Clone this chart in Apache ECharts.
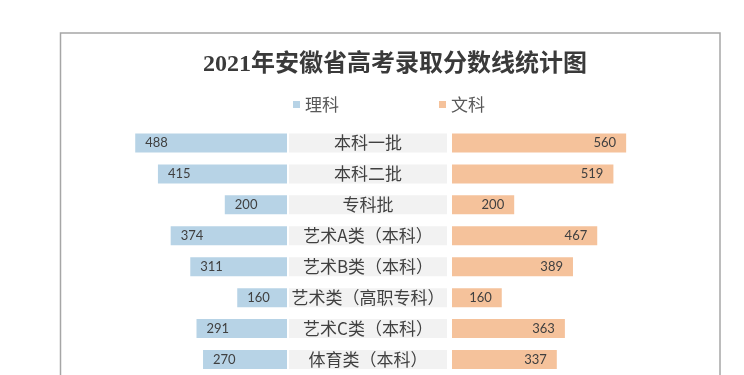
<!DOCTYPE html>
<html>
<head>
<meta charset="utf-8">
<script src="https://cdn.jsdelivr.net/npm/echarts@6/dist/echarts.min.js"></script>
<style>html,body{margin:0;padding:0;background:#fff;}#c{width:744px;height:375px;}</style>
</head>
<body>
<div id="c"></div>
<script>
const categories = ['本科一批', '本科二批', '专科批', '艺术A类（本科）', '艺术B类（本科）', '艺术类（高职专科）', '艺术C类（本科）', '体育类（本科）'];
const science = [488, 415, 200, 374, 311, 160, 291, 270];
const liberal = [560, 519, 200, 467, 389, 160, 363, 337];
const bandValues = categories.map(() => 1);

const chart = echarts.init(document.getElementById('c'), null, {renderer: 'canvas'});
const numFont = 'Lato, "Noto Sans CJK SC", sans-serif';
const cjkFont = '"Noto Sans CJK SC", sans-serif';
const pxPerUnit = 0.311;
const gridTop = 127.5, gridH = 248;
const leftW = 225, rightW = 268;

const yBase = {type: 'category', data: categories, inverse: true,
  axisLine: {show: false}, axisTick: {show: false}, axisLabel: {show: false}, splitLine: {show: false}};
const xBase = {type: 'value', axisLine: {show: false}, axisTick: {show: false}, axisLabel: {show: false}, splitLine: {show: false}};

chart.setOption({
  animation: false,
  backgroundColor: '#ffffff',
  title: {
    text: '2021年安徽省高考录取分数线统计图',
    left: 390, top: 48, textAlign: 'center',
    textStyle: {fontSize: 24, fontWeight: 'bold', color: '#3a3a3a', fontFamily: '"Liberation Serif", "Noto Sans CJK SC", serif'}
  },
  legend: {
    data: ['理科', '文科'],
    left: 288, top: 91,
    icon: 'rect', itemWidth: 7, itemHeight: 7, itemGap: 100,
    textStyle: {fontSize: 17, color: '#595959', fontFamily: cjkFont}
  },
  graphic: [{
    type: 'rect', silent: true, z: -1,
    shape: {x: 60.5, y: 33, width: 659.5, height: 400},
    style: {fill: 'none', stroke: '#a6a6a6', lineWidth: 1.5}
  }],
  grid: [
    {left: 287 - leftW, top: gridTop, width: leftW, height: gridH},
    {left: 289, top: gridTop, width: 158, height: gridH},
    {left: 452, top: gridTop, width: rightW, height: gridH}
  ],
  xAxis: [
    Object.assign({}, xBase, {gridIndex: 0, inverse: true, min: 0, max: leftW / pxPerUnit}),
    Object.assign({}, xBase, {gridIndex: 1, min: 0, max: 1}),
    Object.assign({}, xBase, {gridIndex: 2, min: 0, max: rightW / pxPerUnit})
  ],
  yAxis: [
    Object.assign({}, yBase, {gridIndex: 0}),
    Object.assign({}, yBase, {gridIndex: 1}),
    Object.assign({}, yBase, {gridIndex: 2})
  ],
  series: [
    {name: '理科', type: 'bar', xAxisIndex: 0, yAxisIndex: 0, data: science, barWidth: 19,
      itemStyle: {color: '#b7d3e6'},
      label: {show: true, position: 'insideLeft', distance: 10, fontSize: 13, color: '#404040', fontFamily: numFont}},
    {name: '分类', type: 'bar', xAxisIndex: 1, yAxisIndex: 1, data: bandValues, barWidth: 19,
      itemStyle: {color: '#f2f2f2'},
      label: {show: true, position: 'inside', formatter: '{b}', fontSize: 17, color: '#404040', fontFamily: cjkFont}},
    {name: '文科', type: 'bar', xAxisIndex: 2, yAxisIndex: 2, data: liberal, barWidth: 19,
      itemStyle: {color: '#f5c29b'},
      label: {show: true, position: 'insideRight', distance: 10, fontSize: 13, color: '#404040', fontFamily: numFont}}
  ]
});
</script>
</body>
</html>
